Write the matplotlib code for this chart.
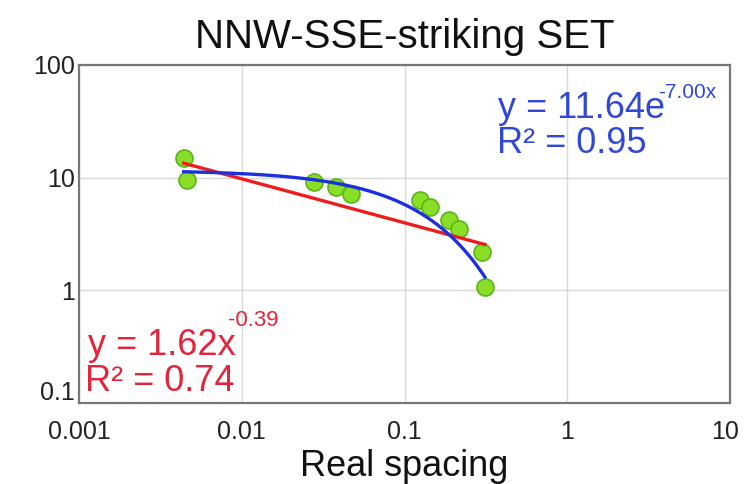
import numpy as np
import matplotlib
matplotlib.use("Agg")
import matplotlib.pyplot as plt
from matplotlib.transforms import ScaledTranslation

plt.rcParams['font.family'] = ['Liberation Sans', 'DejaVu Sans']

# Data
spacing = [0.0044, 0.0046, 0.0278, 0.038, 0.047, 0.124, 0.143, 0.189, 0.215, 0.299, 0.312]
value = [15.0, 9.6, 9.2, 8.2, 7.2, 6.4, 5.5, 4.25, 3.47, 2.17, 1.06]

# Fit coefficients shown in the chart
pow_a, pow_b, pow_r2 = 1.62, -0.39, 0.74
exp_a, exp_b, exp_r2 = 11.64, -7.00, 0.95

title = "NNW-SSE-striking SET"
xlabel = "Real spacing"
xticks = [0.001, 0.01, 0.1, 1, 10]
xticklabels = ["0.001", "0.01", "0.1", "1", "10"]
yticks = [0.1, 1, 10, 100]
yticklabels = ["0.1", "1", "10", "100"]

W, H = 745, 484
fig = plt.figure(figsize=(W / 100, H / 100), dpi=100)
ax = fig.add_axes([79 / W, (H - 403) / H, (730 - 79) / W, (403 - 65) / H])
ax.set_xscale('log')
ax.set_yscale('log')
ax.set_xlim(0.001, 10)
ax.set_ylim(0.1, 100)

ax.grid(True, which='major', color='#d8d8d8', linewidth=1.0)
ax.set_axisbelow(True)
ax.set_xticks(xticks)
ax.set_xticklabels(xticklabels)
ax.set_yticks(yticks)
ax.set_yticklabels(yticklabels)
ax.minorticks_off()
ax.tick_params(length=0, labelsize=18, colors='#222222')
ax.tick_params(axis='x', pad=12)
ax.tick_params(axis='y', pad=3)
for s in ax.spines.values():
    s.set_color('#777777')
    s.set_linewidth(1.6)

# shift the lowest y label up, and the last x label left, as in the reference
fig.canvas.draw()
ylabs = ax.get_yticklabels()
ylabs[0].set_transform(ylabs[0].get_transform() + ScaledTranslation(0, 13 / 100, fig.dpi_scale_trans))
xlabs = ax.get_xticklabels()
xlabs[-1].set_transform(xlabs[-1].get_transform() + ScaledTranslation(-5 / 100, 0, fig.dpi_scale_trans))

ax.scatter(spacing, value, s=150, color='#8ade26', edgecolor='#58b61c', linewidth=1.2, zorder=3)

xs = np.logspace(np.log10(min(spacing)), np.log10(max(spacing)), 200)
ax.plot(xs, pow_a * xs ** pow_b, color='#ee1c1c', linewidth=2.4, zorder=4)
ax.plot(xs, exp_a * np.exp(exp_b * xs), color='#1c30e0', linewidth=2.4, zorder=5)

ax.set_title(title, fontsize=29, pad=12, color='#111111')
ax.set_xlabel(xlabel, fontsize=26, labelpad=4, color='#111111')

red = '#e3243a'
blue = '#3048d8'
t1 = ax.text(88, H - 355, "y = %.2fx" % pow_a, transform=None, fontsize=26, color=red)
ax.annotate("%.2f" % pow_b, xy=(1, 0), xycoords=t1, xytext=(-8, 37),
            textcoords='offset pixels', fontsize=16, color=red, va='baseline')
ax.text(85, H - 391, "R\u00b2 = %.2f" % pow_r2, transform=None, fontsize=26, color=red)

t2 = ax.text(498, H - 118, "y = %.2fe" % exp_a, transform=None, fontsize=26, color=blue)
ax.annotate("%.2fx" % exp_b, xy=(1, 0), xycoords=t2, xytext=(-7, 28),
            textcoords='offset pixels', fontsize=15, color=blue, va='baseline')
ax.text(497, H - 153, "R\u00b2 = %.2f" % exp_r2, transform=None, fontsize=26, color=blue)

fig.savefig("out.png", dpi=100)
